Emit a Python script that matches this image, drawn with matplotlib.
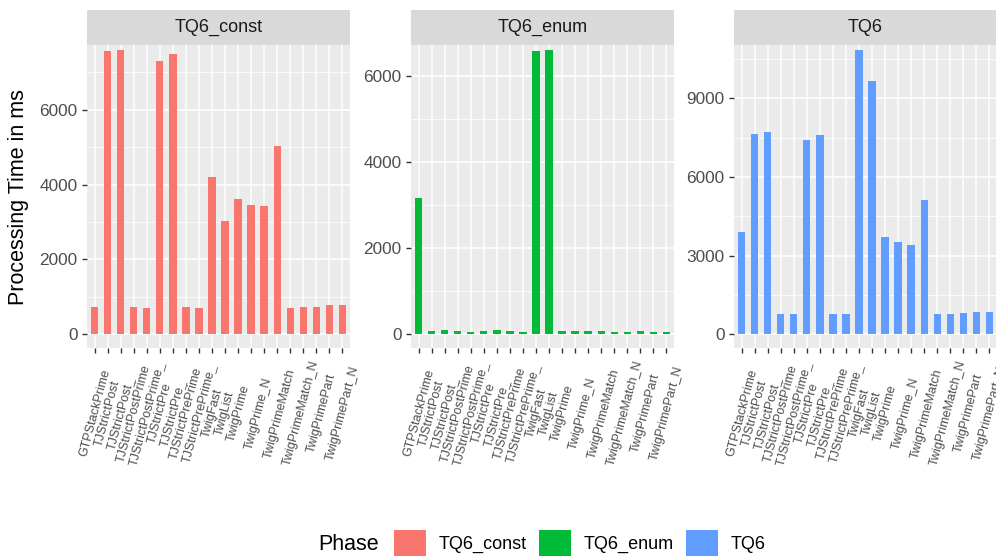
import numpy as np
import matplotlib
matplotlib.use("Agg")
import matplotlib.pyplot as plt
from matplotlib.patches import Patch, Rectangle

plt.rcParams["font.family"] = ["Liberation Sans", "DejaVu Sans"]

# ── data ──
phases = ["TQ6_const", "TQ6_enum", "TQ6"]
colors = ["#F8766D", "#00BA38", "#619CFF"]

# the reference shows 17 labels under 20 bars; the last six are spread out
tick_labels = ["GTPStackPrime", "TJStrictPost", "TJStrictPost_", "TJStrictPostPrime",
               "TJStrictPostPrime_", "TJStrictPre", "TJStrictPre_", "TJStrictPrePrime",
               "TJStrictPrePrime_", "TwigFast", "TwigList", "TwigPrime",
               "TwigPrime_N", "TwigPrimeMatch", "TwigPrimeMatch_N",
               "TwigPrimePart", "TwigPrimePart_N"]

tq6_const = [738, 7565, 7591, 738, 711, 7298, 7485, 738, 711, 4205,
             3031, 3618, 3458, 3431, 5031, 711, 738, 738, 791, 791]
tq6_enum = [3170, 85, 108, 85, 62, 85, 108, 85, 62, 6579,
            6602, 85, 85, 85, 85, 62, 62, 85, 62, 62]
tq6 = [3910, 7642, 7718, 787, 787, 7414, 7604, 787, 787, 10841,
       9661, 3720, 3529, 3415, 5129, 787, 787, 825, 863, 863]

series = [tq6_const, tq6_enum, tq6]

# per panel: y limits, major ticks, minor grid
panel_cfg = [
    ((-363, 7725), [0, 2000, 4000, 6000], [1000, 3000, 5000, 7000]),
    ((-316, 6722), [0, 2000, 4000, 6000], [1000, 3000, 5000]),
    ((-518, 11028), [0, 3000, 6000, 9000], [1500, 4500, 7500, 10500]),
]

W, H = 996, 559
fig = plt.figure(figsize=(W / 100, H / 100), dpi=100)

panel_left = [87, 411, 734]
panel_w, panel_top, panel_bot = 263, 45, 348
strip_h = 35

n_bars = len(tq6)
# label spots: one per bar up to TwigPrime, then the rest spaced out to the last bar
lab_pos = list(range(12)) + list(np.linspace(11, n_bars - 1, 6)[1:])

for i, (name, vals, col) in enumerate(zip(phases, series, colors)):
    ax = fig.add_axes([panel_left[i] / W, (H - panel_bot) / H,
                       panel_w / W, (panel_bot - panel_top) / H])
    ax.set_facecolor("#EBEBEB")
    x = list(range(len(vals)))
    ylim, yt, ym = panel_cfg[i]

    for m in ym:
        ax.axhline(m, color="white", lw=0.55, zorder=0.5)
    for xv in x:
        ax.axvline(xv, color="white", lw=1.15, zorder=0.6)
    ax.grid(True, axis="y", which="major", color="white", lw=1.15, zorder=0.6)
    ax.set_axisbelow(True)

    ax.bar(x, vals, width=0.55, color=col, zorder=2)
    ax.set_xlim(-0.6, len(vals) - 0.4)
    ax.set_ylim(*ylim)
    ax.set_yticks(yt)
    ax.set_yticklabels([str(v) for v in yt])
    ax.xaxis.remove_overlapping_locs = False
    ax.set_xticks(x)
    ax.set_xticklabels([])
    ax.set_xticks(lab_pos, minor=True)
    ax.set_xticklabels(tick_labels, minor=True, rotation=75, ha="center",
                       va="center", fontsize=9, color="#4D4D4D")
    ax.tick_params(axis="x", which="major", length=3.8, width=1, color="#333333")
    ax.tick_params(axis="x", which="minor", length=0, pad=47)
    ax.tick_params(axis="y", length=3.8, width=1, color="#333333", pad=3,
                   labelsize=12.4, labelcolor="#4D4D4D")
    for s in ax.spines.values():
        s.set_visible(False)

    # facet strip
    hfrac = strip_h / (panel_bot - panel_top)
    ax.add_patch(Rectangle((0, 1), 1, hfrac, transform=ax.transAxes,
                           facecolor="#D9D9D9", edgecolor="none", clip_on=False))
    ax.text(0.5, 1 + hfrac / 2, name, transform=ax.transAxes, ha="center",
            va="center", fontsize=13, color="#1A1A1A")

fig.text(19 / W, 1 - 197 / H, "Processing Time in ms", rotation=90,
         ha="center", va="center", fontsize=15.5, color="black")

# legend along the bottom, title on the left
fig.text(318 / W, 1 - 545 / H, "Phase", ha="left", va="center", fontsize=15.5)
handles = [Patch(facecolor=c, edgecolor="none") for c in colors]
fig.legend(handles, phases, loc="center", ncol=3, frameon=False,
           bbox_to_anchor=(580 / W, 1 - 543 / H), fontsize=13,
           handlelength=1.77, handleheight=1.77, handletextpad=0.72,
           columnspacing=0.66, borderpad=0, borderaxespad=0)

fig.savefig("out.png", dpi=100)
